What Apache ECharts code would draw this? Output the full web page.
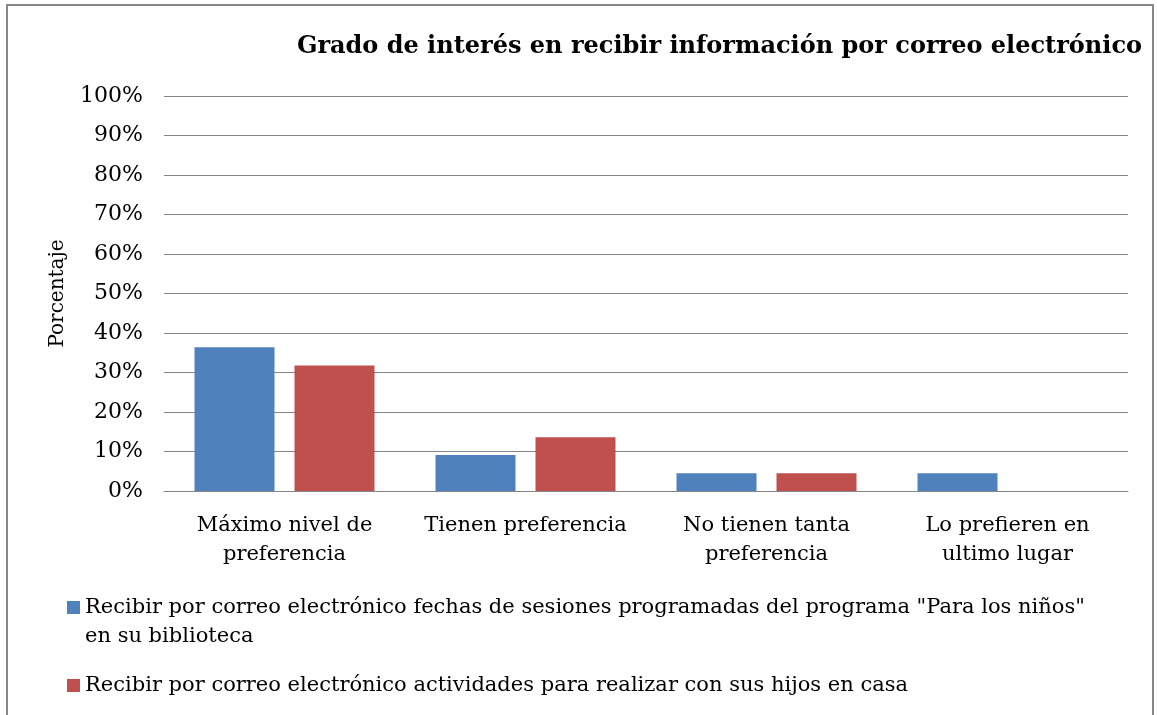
<!DOCTYPE html>
<html>
<head>
<meta charset="utf-8">
<script src="https://cdn.jsdelivr.net/npm/echarts@6/dist/echarts.min.js"></script>
<style>
  html, body { margin: 0; padding: 0; background: #fff; }
  #chart { width: 1157px; height: 715px; }
</style>
</head>
<body>
<div id="chart"></div>
<script>
const categories = [
  'Máximo nivel de\npreferencia',
  'Tienen preferencia',
  'No tienen tanta\npreferencia',
  'Lo prefieren en\nultimo lugar'
];
const seriesNames = [
  'Recibir por correo electrónico fechas de sesiones programadas del programa "Para los niños" en su biblioteca',
  'Recibir por correo electrónico actividades para realizar con sus hijos en casa'
];
// blank first line keeps the marker level with the first text line
const legendLabels = [
  ' \nRecibir por correo electrónico fechas de sesiones programadas del programa "Para los niños"\nen su biblioteca',
  'Recibir por correo electrónico actividades para realizar con sus hijos en casa'
];
const fechasValues = [36.4, 9.1, 4.5, 4.5];
const actividadesValues = [31.8, 13.6, 4.5, 0];
const yTicks = [0, 10, 20, 30, 40, 50, 60, 70, 80, 90, 100];

const font = '"DejaVu Serif", "Liberation Serif", serif';
const gridGray = '#868686';

const chart = echarts.init(document.getElementById('chart'));

chart.setOption({
  animation: false,
  textStyle: { fontFamily: font, color: '#000' },
  title: {
    text: 'Grado de interés en recibir información por correo electrónico',
    right: 10,
    top: 30,
    textStyle: { fontFamily: font, fontSize: 24, fontWeight: 'bold', color: '#000' }
  },
  graphic: [
    {
      type: 'rect',
      shape: { x: 7, y: 5, width: 1146, height: 720 },
      style: { fill: 'none', stroke: '#888', lineWidth: 2 },
      silent: true
    }
  ],
  legend: [
    {
      data: [seriesNames[0]],
      left: 67,
      top: 564,
      padding: 0,
      itemWidth: 13,
      itemHeight: 13,
      icon: 'rect',
      formatter: () => legendLabels[0],
      textStyle: { fontFamily: font, fontSize: 21, color: '#000', lineHeight: 29 }
    },
    {
      data: [seriesNames[1]],
      left: 67,
      top: 671,
      padding: 0,
      itemWidth: 13,
      itemHeight: 13,
      icon: 'rect',
      formatter: () => legendLabels[1],
      textStyle: { fontFamily: font, fontSize: 21, color: '#000', lineHeight: 29 }
    }
  ],
  grid: { left: 164, right: 29, top: 96, bottom: 224 },
  xAxis: {
    type: 'category',
    data: categories,
    axisTick: { show: false },
    axisLine: { lineStyle: { color: gridGray, width: 1 } },
    axisLabel: {
      interval: 0,
      margin: 20,
      fontFamily: font,
      fontSize: 21,
      lineHeight: 29,
      color: '#000'
    }
  },
  yAxis: {
    type: 'value',
    min: yTicks[0],
    max: yTicks[yTicks.length - 1],
    interval: 10,
    name: 'Porcentaje',
    nameLocation: 'middle',
    nameGap: 96,
    nameTextStyle: { fontFamily: font, fontSize: 20, color: '#000' },
    axisLine: { show: false },
    axisTick: { show: false },
    splitLine: { lineStyle: { color: gridGray, width: 1 } },
    axisLabel: {
      margin: 21,
      fontFamily: font,
      fontSize: 22,
      color: '#000',
      formatter: (v) => v + '%'
    }
  },
  series: [
    {
      name: seriesNames[0],
      type: 'bar',
      data: fechasValues,
      barWidth: 80,
      barGap: '25%',
      itemStyle: { color: '#4F81BD' }
    },
    {
      name: seriesNames[1],
      type: 'bar',
      data: actividadesValues,
      barWidth: 80,
      itemStyle: { color: '#C0504D' }
    }
  ]
});
</script>
</body>
</html>
